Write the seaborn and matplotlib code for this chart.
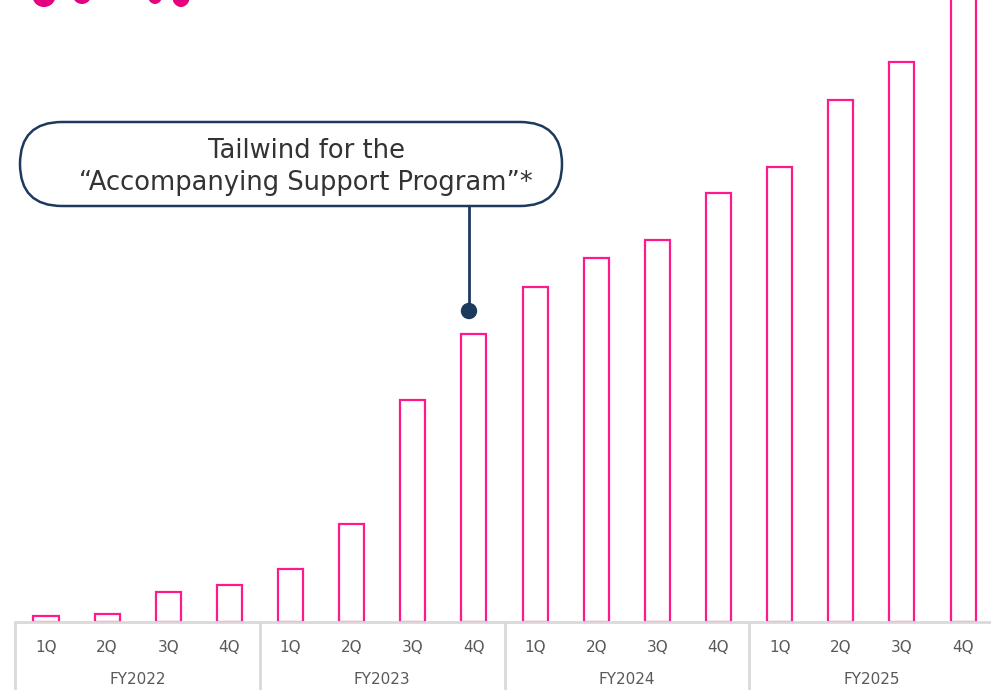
import matplotlib
matplotlib.use("Agg")
import matplotlib.pyplot as plt
from matplotlib.patches import FancyBboxPatch, Ellipse, Circle
from matplotlib.lines import Line2D
import seaborn as sns
import pandas as pd

# Quarterly series (relative units), FY2022 1Q .. FY2025 4Q
fiscal_years = ["FY2022", "FY2023", "FY2024", "FY2025"]
quarters = ["1Q", "2Q", "3Q", "4Q"]
values = [6, 8, 30, 37,
          53, 98, 222, 288,
          335, 364, 382, 429,
          455, 522, 560, 640]
callout_lines = ["Tailwind for the", "\u201cAccompanying Support Program\u201d*"]

PINK = "#ff1a8c"
NAVY = "#1c3a5e"
GRID = "#d9d9d9"
LABEL = "#595959"

W, H = 991, 690
sns.set_theme(style="white")
plt.rcParams["font.family"] = ["DejaVu Sans"]

fig = plt.figure(figsize=(W / 100, H / 100), dpi=100)

# main bar axes (pixel geometry: baseline at y=622, slots 61.14 px wide)
slot = 61.14
left_px = 15.4
base_px = 622
ax = fig.add_axes([left_px / W, (H - base_px) / H, 16 * slot / W, base_px / H])

df = pd.DataFrame({
    "period": [f"{fy}-{q}" for fy in fiscal_years for q in quarters],
    "value": values,
})
sns.barplot(data=df, x="period", y="value", ax=ax, color="white",
            saturation=1, edgecolor=PINK, linewidth=1.6, width=0.41,
            errorbar=None, zorder=2)

ax.set_ylim(0, base_px)
ax.set_xlim(-0.5, 15.5)
ax.set_xlabel("")
ax.set_ylabel("")
ax.set_yticks([])
ax.set_xticks([])
for s in ax.spines.values():
    s.set_visible(False)

xt = ax.get_xaxis_transform()
# baseline
ax.add_line(Line2D([-0.5, 15.5], [0, 0], transform=xt, color=GRID,
                   lw=2, clip_on=False, zorder=5))
# group separators
for xs in [-0.5, 3.5, 7.5, 11.5, 15.5]:
    ax.add_line(Line2D([xs, xs], [0, -68 / base_px], transform=xt,
                       color=GRID, lw=2, clip_on=False, zorder=5))
# quarter labels and fiscal-year labels
for i in range(16):
    ax.text(i, -25 / base_px, quarters[i % 4], transform=xt, ha="center",
            va="center", fontsize=11, color=LABEL)
for g, fy in enumerate(fiscal_years):
    ax.text(g * 4 + 1.5, -57 / base_px, fy, transform=xt, ha="center",
            va="center", fontsize=11, color=LABEL)

# overlay in pixel coordinates (origin top-left)
ov = fig.add_axes([0, 0, 1, 1])
ov.set_xlim(0, W)
ov.set_ylim(H, 0)
ov.axis("off")
ov.patch.set_alpha(0)

# pink heading fragments at the top edge
for cx, cy, ew, eh in [(44, -4, 23, 22), (82, -7, 20, 22),
                       (155, -7, 16, 22), (181, -4, 18, 22)]:
    ov.add_patch(Ellipse((cx, cy), ew, eh, color="#e4007f", lw=0))

# callout box
bx0, by0, bx1, by1 = 20, 122, 562, 206
r = (by1 - by0) / 2
ov.add_patch(FancyBboxPatch((bx0, by0), bx1 - bx0, by1 - by0,
                            boxstyle=f"round,pad=0,rounding_size={r - 0.01}",
                            mutation_aspect=1, facecolor="white",
                            edgecolor=NAVY, lw=1.8, zorder=3))
ov.text(306, 151, callout_lines[0], ha="center", va="center",
        fontsize=18.5, color="#333333", zorder=4)
ov.text(306, 183, callout_lines[1], ha="center", va="center",
        fontsize=18.5, color="#333333", zorder=4)

# leader line with dot
ov.add_line(Line2D([469, 469], [by1, 311], color=NAVY, lw=2, zorder=3))
ov.add_patch(Circle((469, 311), 7.5, color=NAVY, zorder=4))

fig.savefig("out.png", dpi=100)
